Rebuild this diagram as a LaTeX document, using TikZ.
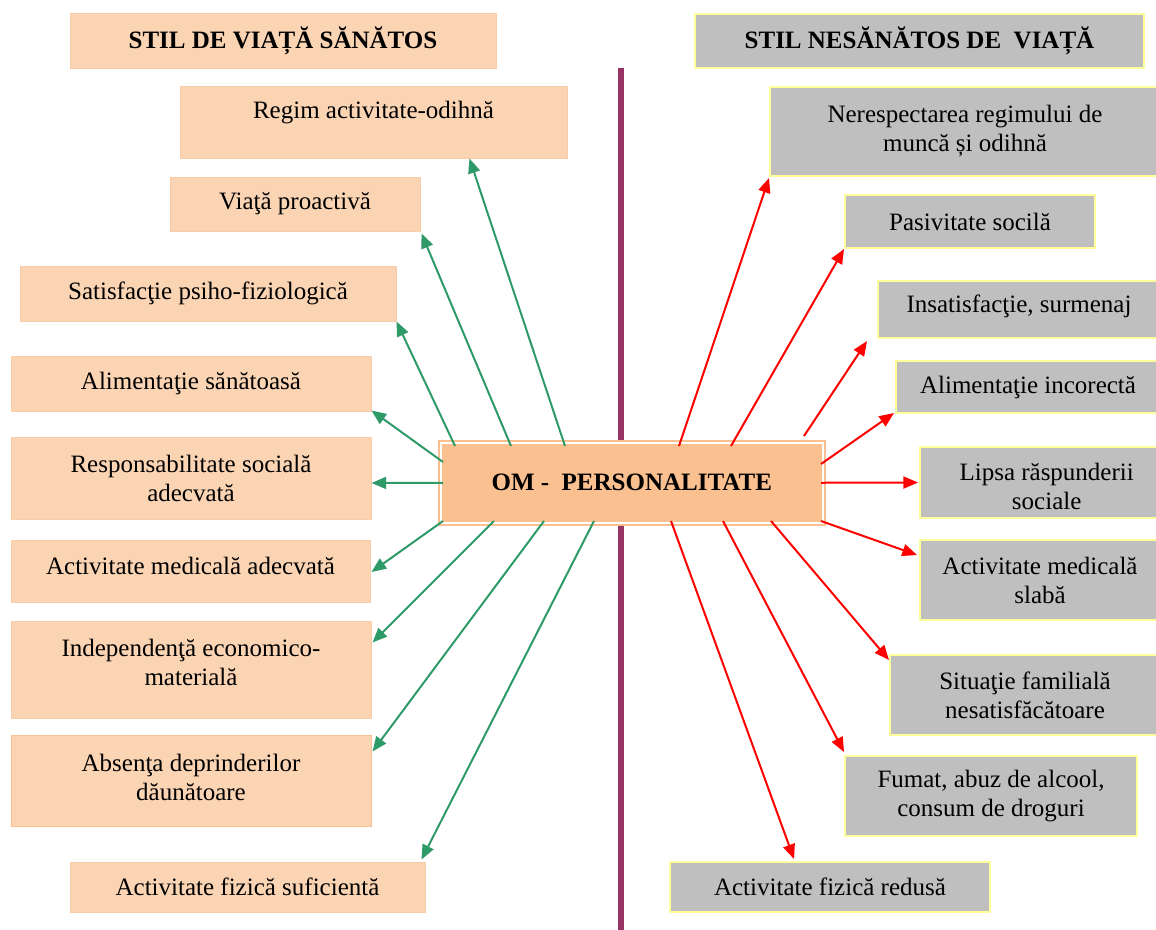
\documentclass[tikz,border=0pt]{standalone}
\usepackage{fontspec}
\setmainfont{Liberation Serif}
\usetikzlibrary{arrows.meta,calc}

\definecolor{peachfill}{HTML}{FBD4B4}
\definecolor{peachline}{HTML}{F9CBA6}
\definecolor{peachdark}{HTML}{FAC090}
\definecolor{greyfill}{HTML}{BFBFBF}
\definecolor{yellowline}{HTML}{FFFF99}
\definecolor{leafgreen}{HTML}{2E9A68}
\definecolor{plum}{HTML}{993366}

\begin{document}
\begin{tikzpicture}[x=0.75pt,y=-0.75pt,
  every node/.style={font=\fontsize{18.75}{21.75}\selectfont, align=center, inner sep=0pt},
  % a box spanning the corners (x1,y1) and (x2,y2)
  area/.style n args={4}{minimum width={(#3-#1)*0.75pt}, minimum height={(#4-#2)*0.75pt},
    at={({(#1+#3)/2},{(#2+#4)/2})}},
  goodbox/.style={draw=peachline, fill=peachfill, line width=0.75pt},
  badbox/.style={draw=yellowline, fill=greyfill, line width=1.5pt},
  headtext/.style={font=\fontsize{18.75}{21.75}\selectfont\bfseries},
  good/.style={draw=leafgreen, line width=1.5pt, -{Triangle[length=11pt,width=9pt]}},
  bad/.style={draw=red, line width=1.5pt, -{Triangle[length=11pt,width=9pt]}},
]
\useasboundingbox (0,0) rectangle (1156,929);

% dividing bar between the two lifestyles
\coordinate (bartop) at (621,68);
\coordinate (barbottom) at (621,932);
\draw[plum, line width=4.5pt] (bartop) -- (barbottom);

% healthy lifestyle column
\node[goodbox, headtext, area={70}{13}{496}{68}] (goodhead) {STIL DE VIAȚĂ SĂNĂTOS};
\node[goodbox, area={180}{86}{567}{158}, text depth=19pt] (regim) {Regim activitate-odihnă};
\node[goodbox, area={170}{177}{420}{231}] (viata) {Viaţă proactivă};
\node[goodbox, area={20}{266}{396}{321}] (satis) {Satisfacţie psiho-fiziologică};
\node[goodbox, area={11}{356}{371}{411}] (alim) {Alimentaţie sănătoasă};
\node[goodbox, area={11}{437}{371}{519}] (resp) {Responsabilitate socială\\adecvată};
\node[goodbox, area={11}{540}{370}{602}, text depth=7.5pt] (medic) {Activitate medicală adecvată};
\node[goodbox, area={11}{621}{371}{718}] (indep) {Independenţă economico-\\materială\\[-11.5pt]\mbox{}};
\node[goodbox, draw=peachdark, area={11}{735}{371}{826}] (absen) {Absenţa deprinderilor\\dăunătoare\\[-17pt]\mbox{}};
\node[goodbox, area={70}{862}{425}{912}] (fizic) {Activitate fizică suficientă};

% unhealthy lifestyle column
\node[badbox, headtext, area={695}{14}{1144}{68}] (badhead) {STIL NESĂNĂTOS DE\ \ VIAȚĂ};
\node[badbox, area={770}{87}{1160}{176}] (neresp) {Nerespectarea regimului de\\muncă și odihnă\\[-17pt]\mbox{}};
\node[badbox, area={845}{195}{1095}{248}] (pasiv) {Pasivitate socilă};
\node[badbox, area={878}{281}{1160}{338}, text depth=8pt] (insat) {Insatisfacţie, surmenaj};
\node[badbox, area={896}{361}{1160}{413}] (alimi) {Alimentaţie incorectă};
\node[badbox, area={920}{447}{1160}{518}, text height=41pt] (lipsa) {\hspace*{10pt}Lipsa răspunderii\\\hspace*{10pt}sociale};
\node[badbox, area={920}{540}{1160}{620}] (slaba) {Activitate medicală\\slabă};
\node[badbox, area={890}{655}{1160}{735}] (famil) {Situaţie familială\\nesatisfăcătoare};
\node[badbox, area={845}{756}{1137}{836}] (fumat) {Fumat, abuz de alcool,\\consum de droguri};
\node[badbox, area={670}{862}{990}{912}] (redus) {Activitate fizică redusă};

% central node
\node[headtext, area={441}{443}{822.5}{522.5}, fill=peachdark, draw=peachdark,
      line width=1.5pt, double=white, double distance=1.5pt] (om) {OM -\ \ PERSONALITATE};

% healthy links
\draw[good] ($(om.north west)+(125,4)$) -- ($(regim.south west)+(290,0)$);
\draw[good] ($(om.north west)+(71,4)$) -- ($(viata.south east)+(1,2)$);
\draw[good] ($(om.north west)+(15,4)$) -- (satis.south east);
\draw[good] ($(om.west)+(3,-20.75)$) -- ($(alim.south east)+(0,-1)$);
\draw[good] ($(om.west)+(3,0)$) -- ($(resp.east)+(0,5)$);
\draw[good] ($(om.south west)+(3,-2.5)$) -- ($(medic.east)+(1,1)$);
\draw[good] ($(om.south west)+(54,-2.5)$) -- ($(indep.north east)+(1,22)$);
\draw[good] ($(om.south west)+(104,-2.5)$) -- ($(absen.north east)+(1,17)$);
\draw[good] ($(om.south west)+(154,-2.5)$) -- ($(fizic.north east)+(-4,-2)$);

% unhealthy links
\draw[bad] ($(om.north west)+(239,4)$) -- ($(neresp.south west)+(0,1)$);
\draw[bad] ($(om.north west)+(291,4)$) -- (pasiv.south west);
\draw[bad] ($(om.north east)+(-19.5,-6)$) -- ($(insat.south west)+(-10,2)$);
\draw[bad] ($(om.east)+(-2.5,-18.75)$) -- ($(alimi.south west)+(-1,-1)$);
\draw[bad] ($(om.east)+(-2.5,0)$) -- ($(lipsa.west)+(-1,0)$);
\draw[bad] ($(om.south east)+(-2.5,-2.5)$) -- ($(slaba.north west)+(-2,16)$);
\draw[bad] ($(om.south east)+(-52.5,-2.5)$) -- ($(famil.north west)+(0,6)$);
\draw[bad] ($(om.south east)+(-100.5,-2.5)$) -- ($(fumat.north west)+(0,-3)$);
\draw[bad] ($(om.south east)+(-152.5,-2.5)$) -- ($(redus.north west)+(125,-2)$);
\end{tikzpicture}
\end{document}
